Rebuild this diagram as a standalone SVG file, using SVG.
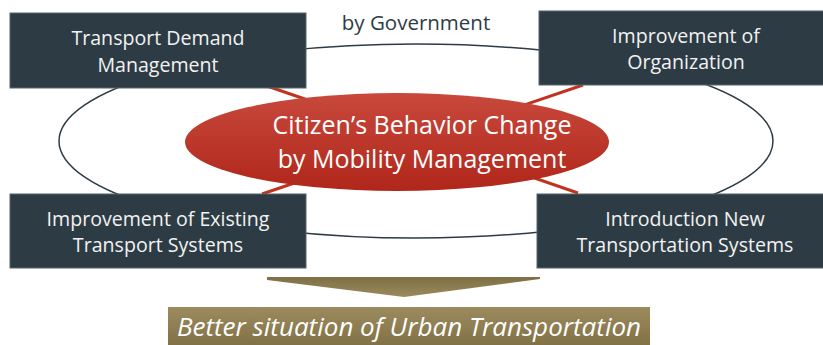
<svg xmlns="http://www.w3.org/2000/svg" width="823" height="345" viewBox="0 0 823 345">
  <defs>
    <linearGradient id="redFill" x1="0" y1="0" x2="0" y2="1">
      <stop offset="0" stop-color="#c8493c"/>
      <stop offset="1" stop-color="#b0261a"/>
    </linearGradient>
    <linearGradient id="oliveFill" x1="0" y1="0" x2="0" y2="1">
      <stop offset="0" stop-color="#9b8b5e"/>
      <stop offset="1" stop-color="#7d6d42"/>
    </linearGradient>
    <linearGradient id="arrowFill" x1="0" y1="0" x2="0" y2="1">
      <stop offset="0" stop-color="#7f6f45"/>
      <stop offset="1" stop-color="#9a8a5c"/>
    </linearGradient>
    <style>
      .box { fill: #2d3c44; stroke: #56646b; stroke-width: 1; }
      .label { font-family: "Open Sans", "DejaVu Sans", sans-serif; font-size: 19.6px; fill: #f2f2f2; text-anchor: middle; }
      .core { font-family: "Open Sans", "DejaVu Sans", sans-serif; font-size: 25px; fill: #ffffff; text-anchor: middle; }
      .cap { font-family: "Open Sans", "DejaVu Sans", sans-serif; font-size: 20.5px; fill: #2d3c44; text-anchor: middle; }
      .result { font-family: "Open Sans", "DejaVu Sans", sans-serif; font-size: 26px; font-style: italic; fill: #ffffff; text-anchor: middle; }
      .tie { stroke: #c0341f; stroke-width: 3; }
    </style>
  </defs>

  <!-- connectors: outer ring and the red cross behind the centre -->
  <g id="connectors">
    <ellipse cx="416" cy="141" rx="357" ry="97" fill="none" stroke="#2d3c44" stroke-width="1.5"/>
    <line class="tie" x1="267" y1="86" x2="578" y2="193"/>
    <line class="tie" x1="583" y1="85" x2="262" y2="194"/>
    <text class="cap" x="416" y="30">by Government</text>
  </g>

  <g id="tdm">
    <rect class="box" x="10" y="13" width="296" height="75"/>
    <text class="label" x="158" y="45">Transport Demand</text>
    <text class="label" x="158" y="72">Management</text>
  </g>

  <g id="organization">
    <rect class="box" x="539" y="11" width="294" height="74"/>
    <text class="label" x="686" y="43">Improvement of</text>
    <text class="label" x="686" y="69">Organization</text>
  </g>

  <g id="existing">
    <rect class="box" x="10" y="194" width="296" height="74"/>
    <text class="label" x="158" y="226">Improvement of Existing</text>
    <text class="label" x="158" y="252">Transport Systems</text>
  </g>

  <g id="new-systems">
    <rect class="box" x="537" y="194" width="296" height="74"/>
    <text class="label" x="685" y="226">Introduction New</text>
    <text class="label" x="685" y="252">Transportation Systems</text>
  </g>

  <g id="behavior">
    <ellipse cx="397" cy="142" rx="212" ry="49" fill="url(#redFill)"/>
    <text class="core" x="422" y="134">Citizen’s Behavior Change</text>
    <text class="core" x="422" y="168">by Mobility Management</text>
  </g>

  <g id="result">
    <polygon points="267,277 540,277 540,279 404,297 267,280" fill="url(#arrowFill)"/>
    <rect x="168" y="307" width="482" height="45" fill="url(#oliveFill)"/>
    <text class="result" x="409" y="336">Better situation of Urban Transportation</text>
  </g>
</svg>
